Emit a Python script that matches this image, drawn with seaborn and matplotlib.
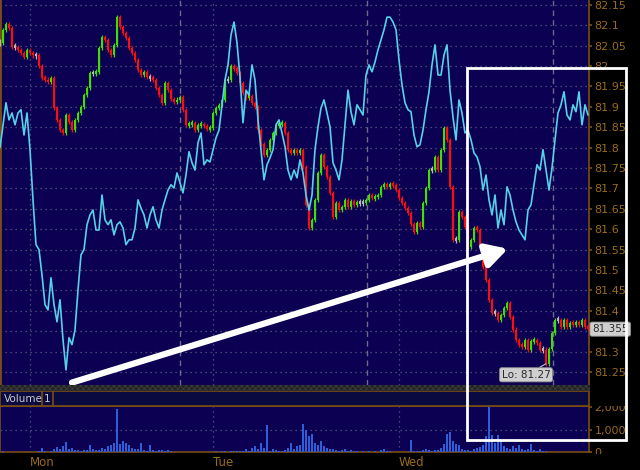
import numpy as np
import matplotlib
matplotlib.use("Agg")
import matplotlib.pyplot as plt
import seaborn as sns
from matplotlib.patches import Rectangle
from matplotlib import patheffects
from matplotlib.ticker import FuncFormatter, FixedLocator

# ---------------- data ----------------
# main instrument: closing price per bar (Mon -> Wed)
price = [
    82.057, 82.089, 82.103, 82.093, 82.047, 82.047, 82.040, 82.032, 82.022, 82.040,
    82.032, 82.027, 82.027, 82.000, 81.971, 81.966, 81.961, 81.971, 81.897, 81.868,
    81.844, 81.836, 81.880, 81.863, 81.844, 81.868, 81.885, 81.900, 81.929, 81.946,
    81.983, 81.983, 81.986, 82.044, 82.071, 82.064, 82.040, 82.027, 82.052, 82.120,
    82.096, 82.081, 82.069, 82.044, 82.032, 82.015, 81.991, 81.978, 81.986, 81.973,
    81.973, 81.966, 81.946, 81.929, 81.910, 81.959, 81.942, 81.919, 81.912, 81.917,
    81.924, 81.893, 81.856, 81.858, 81.861, 81.844, 81.856, 81.858, 81.853, 81.846,
    81.848, 81.885, 81.897, 81.905, 81.917, 81.966, 81.966, 82.000, 81.995, 81.983,
    81.959, 81.934, 81.922, 81.927, 81.910, 81.900, 81.844, 81.809, 81.782, 81.795,
    81.819, 81.836, 81.856, 81.858, 81.861, 81.836, 81.795, 81.787, 81.795, 81.787,
    81.795, 81.753, 81.660, 81.603, 81.623, 81.672, 81.738, 81.782, 81.753, 81.728,
    81.689, 81.630, 81.665, 81.648, 81.655, 81.672, 81.655, 81.670, 81.660, 81.665,
    81.665, 81.665, 81.672, 81.684, 81.677, 81.679, 81.684, 81.704, 81.709, 81.704,
    81.711, 81.709, 81.697, 81.677, 81.665, 81.652, 81.640, 81.613, 81.594, 81.616,
    81.606, 81.665, 81.701, 81.746, 81.746, 81.777, 81.746, 81.795, 81.848, 81.819,
    81.704, 81.574, 81.574, 81.643, 81.630, 81.606, 81.557, 81.574, 81.603, 81.599,
    81.557, 81.508, 81.476, 81.427, 81.395, 81.395, 81.378, 81.390, 81.407, 81.420,
    81.385, 81.354, 81.329, 81.317, 81.312, 81.329, 81.305, 81.327, 81.329, 81.322,
    81.305, 81.305, 81.270, 81.307, 81.346, 81.378, 81.378, 81.361, 81.378, 81.361,
    81.371, 81.366, 81.373, 81.366, 81.378, 81.361, 81.355,
]

# comparison instrument (cyan), overlaid on the price scale
comparison = [
    81.800, 81.856, 81.910, 81.868, 81.885, 81.856, 81.885, 81.893, 81.831, 81.885,
    81.795, 81.672, 81.562, 81.550, 81.488, 81.415, 81.402, 81.481, 81.415, 81.373,
    81.427, 81.329, 81.255, 81.334, 81.317, 81.353, 81.451, 81.537, 81.550, 81.611,
    81.635, 81.647, 81.598, 81.598, 81.684, 81.623, 81.611, 81.623, 81.586, 81.611,
    81.618, 81.603, 81.562, 81.574, 81.574, 81.603, 81.672, 81.652, 81.635, 81.603,
    81.635, 81.655, 81.623, 81.603, 81.647, 81.672, 81.696, 81.709, 81.701, 81.738,
    81.714, 81.689, 81.733, 81.790, 81.763, 81.745, 81.812, 81.836, 81.758, 81.770,
    81.765, 81.795, 81.824, 81.843, 81.905, 81.966, 82.003, 82.076, 82.108, 82.057,
    81.973, 81.861, 81.941, 81.929, 82.003, 81.966, 81.868, 81.795, 81.721, 81.758,
    81.775, 81.795, 81.856, 81.868, 81.836, 81.802, 81.745, 81.721, 81.745, 81.726,
    81.770, 81.738, 81.684, 81.647, 81.684, 81.795, 81.851, 81.897, 81.917, 81.885,
    81.851, 81.763, 81.745, 81.721, 81.770, 81.856, 81.941, 81.888, 81.856, 81.905,
    81.893, 81.880, 81.978, 82.003, 81.986, 82.010, 82.040, 82.064, 82.089, 82.120,
    82.120, 82.108, 82.089, 82.015, 81.954, 81.910, 81.893, 81.888, 81.831, 81.802,
    81.807, 81.843, 81.893, 81.937, 82.003, 82.052, 81.978, 81.978, 82.027, 82.052,
    81.941, 81.875, 81.819, 81.917, 81.885, 81.836, 81.843, 81.819, 81.787, 81.777,
    81.753, 81.696, 81.733, 81.672, 81.635, 81.684, 81.603, 81.647, 81.611, 81.704,
    81.684, 81.647, 81.618, 81.598, 81.586, 81.574, 81.647, 81.660, 81.709, 81.758,
    81.745, 81.795, 81.745, 81.696, 81.750, 81.819, 81.885, 81.905, 81.937, 81.880,
    81.868, 81.905, 81.888, 81.937, 81.856, 81.905, 81.880,
]

volume = [
    20, 60, 10, 10, 15, 10, 10, 10, 10, 15,
    10, 10, 20, 40, 180, 30, 20, 30, 150, 230,
    120, 270, 450, 120, 170, 80, 90, 60, 80, 110,
    320, 150, 90, 110, 200, 150, 250, 300, 420, 1900,
    350, 500, 380, 300, 200, 150, 120, 420, 80, 60,
    300, 70, 40, 90, 110, 60, 90, 40, 20, 15,
    10, 10, 10, 10, 10, 10, 10, 10, 10, 10,
    10, 10, 60, 20, 40, 40, 20, 30, 50, 40,
    60, 50, 150, 60, 160, 250, 120, 380, 200, 1180,
    50, 130, 80, 60, 40, 100, 200, 400, 150, 250,
    300, 1230, 1000, 700, 780, 400, 300, 500, 250, 200,
    150, 120, 80, 60, 100, 120, 60, 90, 40, 30,
    20, 30, 20, 30, 20, 60, 20, 80, 150, 40,
    30, 20, 15, 10, 10, 10, 10, 550, 40, 30,
    60, 80, 120, 70, 60, 100, 80, 200, 350, 800,
    900, 500, 350, 300, 150, 100, 80, 60, 120, 180,
    230, 300, 700, 2000, 750, 400, 750, 450, 250, 200,
    150, 280, 200, 300, 120, 100, 150, 350, 80, 60,
    120, 40, 30, 20, 10, 10, 10, 10, 10, 10,
    10, 10, 10, 10, 10, 10, 10,
]

day_labels = ["Mon", "Tue", "Wed"]
day_start_bars = [10, 71, 133]          # dotted lines / labels
session_open_bars = [60, 122.3, 184.3]  # dashed lines
price_ticks = [round(81.25 + 0.05 * k, 2) for k in range(19)]
volume_ticks = [0, 1000, 2000]

# annotations drawn on the chart
arrow_from = (24, 81.224)
arrow_to = (169.3, 81.552)
box_from_bar = 155.7
box_top_price = 81.995
box_bottom_volume = 545

# ---------------- style ----------------
sns.set_theme(style="dark")
plt.rcParams["font.family"] = ["DejaVu Sans"]
plt.rcParams["hatch.linewidth"] = 0.6

NAVY = "#0c0052"
BROWN = "#7a4e12"
LABEL = "#9a6a1e"
GRID = "#5c5c82"
GREEN = "#3ee000"
RED = "#ff0d0d"
GRAY = "#b8b8b8"
CYAN = "#55d2ea"

W, H = 640, 470
fig = plt.figure(figsize=(6.4, 4.7), dpi=100, facecolor="black")

def fx(px):
    return px / W

def fy(py):
    return 1 - py / H

ax = fig.add_axes([0, fy(385), fx(589), 385 / H])
axv = fig.add_axes([0, fy(452), fx(589), 46 / H])
axh = fig.add_axes([0, fy(406), fx(589), 15 / H])

n = len(price)
xmax = 589 / 3

# ---------------- main panel ----------------
ax.set_facecolor(NAVY)
p = np.asarray(price)
idx = np.arange(n)
opens = np.r_[p[0], p[:-1]]
diff = p - opens
colors = np.where(diff > 1e-9, GREEN, np.where(diff < -1e-9, RED, GRAY))
mid = (opens + p) / 2
half = np.maximum(np.abs(diff) / 2, 0.0035)
wick = 0.005
# wicks
ax.vlines(idx, mid - half - wick, mid + half + wick, colors=colors, lw=0.9, zorder=3)
# bodies
ax.bar(idx, 2 * half, bottom=mid - half, width=0.8, color=colors, linewidth=0, zorder=3)

sns.lineplot(x=np.arange(len(comparison)), y=comparison, ax=ax, color=CYAN,
             lw=1.2, zorder=4)

ax.set_xlim(0, xmax)
ax.set_ylim(81.218, 82.162)
last = p[-1]
ax.yaxis.set_major_locator(FixedLocator(price_ticks))
ax.yaxis.set_major_formatter(FuncFormatter(
    lambda v, _: "" if abs(v - last) < 0.02 else f"{v:.2f}".rstrip("0").rstrip(".")))
ax.yaxis.tick_right()
ax.tick_params(axis="y", colors=BROWN, labelcolor=LABEL, labelsize=8, length=2,
               pad=2, right=True, left=False, labelright=True, labelleft=False)
ax.tick_params(axis="x", bottom=False, labelbottom=False)
ax.set_xlabel("")
ax.set_ylabel("")
ax.grid(False)
for t in price_ticks:
    ax.axhline(t, color=GRID, ls=(0, (1, 3)), lw=0.9, zorder=1)
for b in day_start_bars:
    ax.axvline(b, color=GRID, ls=(0, (1, 3)), lw=0.9, zorder=1)
for b in session_open_bars:
    ax.axvline(b, color="#6a6a8c", ls=(0, (4, 3)), lw=1.0, zorder=1)
for s in ["top", "bottom"]:
    ax.spines[s].set_visible(False)
ax.spines["left"].set_color(BROWN)
ax.spines["left"].set_linewidth(2)
ax.spines["right"].set_color(BROWN)
ax.spines["right"].set_linewidth(1.2)

# last price tag
ax.annotate(f"{last:.3f}", xy=(1, last), xycoords=("axes fraction", "data"),
            xytext=(3, 0), textcoords="offset pixels", ha="left", va="center",
            fontsize=7.5, color="#2a2a2a", annotation_clip=False,
            bbox=dict(boxstyle="round,pad=0.2", fc="#cfcfcf", ec="#8a8a8a", lw=0.6))

# low tag
lo_i = int(np.argmin(p))
ax.annotate(f"Lo: {p[lo_i]:.2f}", xy=(lo_i, p[lo_i]), xytext=(-20, -11),
            textcoords="offset pixels", ha="center", va="center", fontsize=7.5,
            color="#2a2a2a", zorder=6,
            bbox=dict(boxstyle="round,pad=0.2", fc="#cfcfcf", ec="#8a8a8a", lw=0.6),
            arrowprops=dict(arrowstyle="-", color="#c8c8c8", lw=0.8, shrinkA=0, shrinkB=0))

# big white arrow
ax.annotate("", xy=arrow_to, xytext=arrow_from, annotation_clip=False, zorder=8,
            arrowprops=dict(arrowstyle="-|>,head_length=0.9,head_width=0.5",
                            mutation_scale=14, color="white", lw=4.5,
                            shrinkA=0, shrinkB=0, capstyle="round",
                            path_effects=[patheffects.SimplePatchShadow(offset=(1.5, -1.5), alpha=0.6),
                                          patheffects.Normal()]))

# ---------------- volume panel ----------------
axv.set_facecolor(NAVY)
axv.bar(np.arange(len(volume)), volume, width=0.8, color="#2f5fd8", linewidth=0, zorder=3)
axv.set_xlim(0, xmax)
axv.set_ylim(0, 2045)
axv.yaxis.set_major_locator(FixedLocator(volume_ticks))
axv.yaxis.set_major_formatter(FuncFormatter(lambda v, _: f"{int(v):,}"))
axv.yaxis.tick_right()
axv.tick_params(axis="y", colors=BROWN, labelcolor=LABEL, labelsize=8, length=2,
                pad=2, right=True, left=False, labelright=True, labelleft=False)
axv.set_xticks(day_start_bars)
axv.set_xticklabels(day_labels)
for lab in axv.get_xticklabels():
    lab.set_ha("left")
axv.tick_params(axis="x", colors=LABEL, labelsize=8.5, length=0, pad=3)
axv.grid(False)
axv.axhline(1000, color=GRID, ls=(0, (1, 3)), lw=0.9, zorder=1)
for b in day_start_bars:
    axv.axvline(b, color=GRID, ls=(0, (1, 3)), lw=0.9, zorder=1)
for s in axv.spines.values():
    s.set_color(BROWN)
    s.set_linewidth(1.2)

# ---------------- volume header strip ----------------
axh.set_facecolor("#0a0a40")
axh.set_xlim(0, 589)
axh.set_ylim(0, 1)
axh.set_xticks([])
axh.set_yticks([])
axh.grid(False)
for s in axh.spines.values():
    s.set_color(BROWN)
    s.set_linewidth(1.2)
axh.axvline(42, color=BROWN, lw=1.2)
axh.axvline(53, color=BROWN, lw=1.2)
axh.text(4, 0.5, "Volume", color="#c8c8c8", fontsize=7.5, va="center", ha="left")
axh.text(47.5, 0.5, "1", color="#c8c8c8", fontsize=7.5, va="center", ha="center")

# divider between panels and masks at the right edge
fig.add_artist(Rectangle((0, fy(391)), fx(590), 6 / H, transform=fig.transFigure,
                         fc="#242424", ec="#3c3c3c", hatch="xxxxxx", lw=0, zorder=5))
fig.add_artist(Rectangle((fx(590), fy(406)), fx(50), 21 / H, transform=fig.transFigure,
                         fc="black", ec="none", zorder=5))
fig.add_artist(Rectangle((fx(590), fy(462)), fx(50), 8.5 / H, transform=fig.transFigure,
                         fc="black", ec="none", zorder=5))

# highlight box (from chart coordinates)
fig.canvas.draw()
inv = fig.transFigure.inverted()
x0, y1 = inv.transform(ax.transData.transform((box_from_bar, box_top_price)))
_, y0 = inv.transform(axv.transData.transform((0, box_bottom_volume)))
x1, _ = inv.transform(ax.transAxes.transform((1.063, 0)))
fig.add_artist(Rectangle((x0, y0), x1 - x0, y1 - y0, transform=fig.transFigure,
                         fill=False, ec="white", lw=2.0, zorder=10))

fig.savefig("out.png", dpi=100, facecolor="black")
